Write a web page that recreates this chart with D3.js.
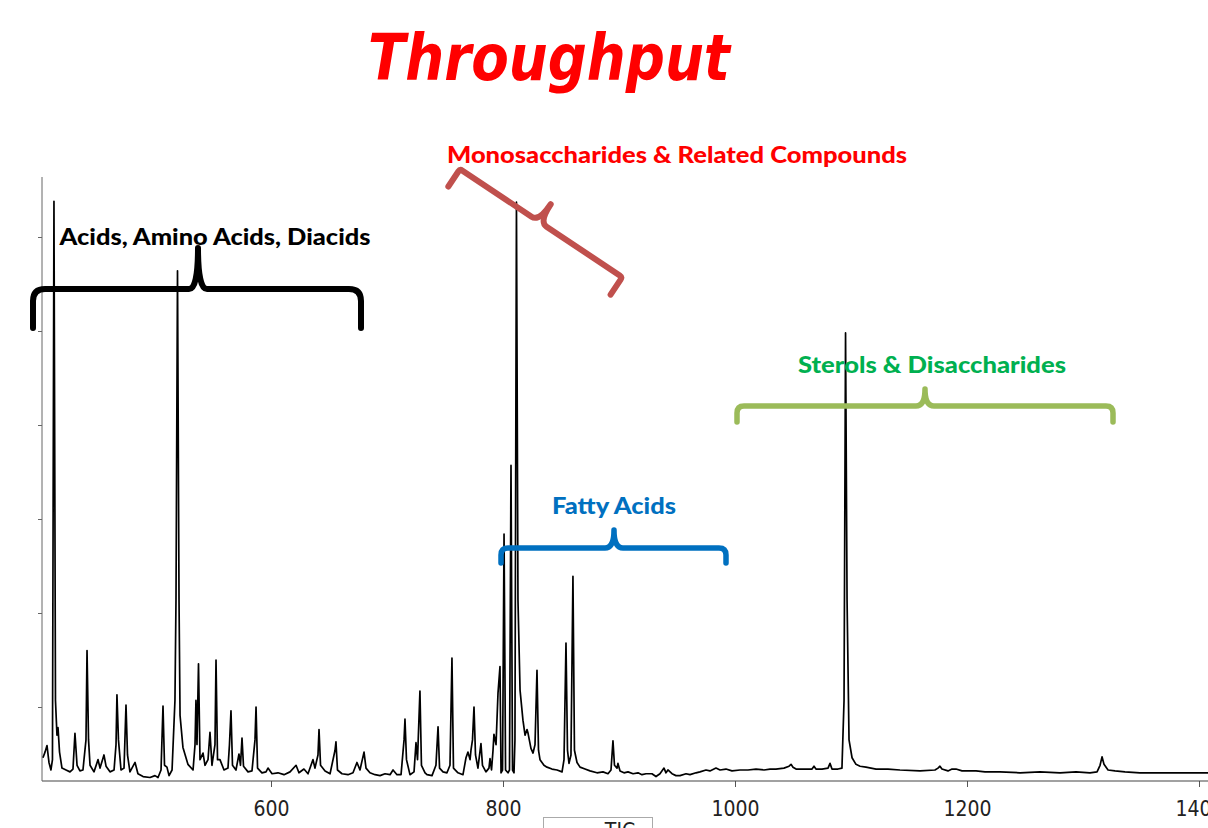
<!DOCTYPE html>
<html>
<head>
<meta http-equiv="Content-Type" content="text/html; charset=utf-8" />
<title>Throughput</title>
<script type="text/javascript" src="https://cdn.jsdelivr.net/npm/d3@7/dist/d3.min.js"></script>
<style>
body{margin:0;background:#fff;}
svg{display:block;}
</style>
</head>
<body>
<svg id="chart" width="1208" height="828"></svg>
<script type="text/javascript">
// TIC trace (scan number / abundance in tick units)
var scan = [403.4,405.2,406.9,408.6,410.3,411.6,412.9,414.2,415.5,416.4,417.7,419.8,423.3,426.7,429.3,431.0,432.8,435.3,437.9,440.5,
	441.4,442.7,444.0,447.4,450.9,452.6,456.0,457.8,461.2,464.7,466.4,467.2,468.5,470.7,473.3,475.0,476.3,478.4,482.8,485.3,
	489.7,495.7,500.0,502.6,505.2,506.9,508.2,510.3,512.1,514.7,517.2,518.1,519.4,520.7,521.6,524.1,528.4,532.8,534.5,535.3,
	536.2,537.5,538.8,541.4,543.1,545.7,547.4,549.1,551.7,552.6,553.9,556.0,559.5,562.9,564.2,565.5,566.8,569.8,572.4,573.7,
	575.0,576.3,580.2,583.6,586.2,587.1,588.4,592.2,595.7,597.4,600.9,606.0,611.2,616.4,621.6,624.1,628.4,631.9,636.2,637.9,
	640.5,641.4,642.7,646.6,650.9,655.2,656.0,657.3,661.2,666.4,670.7,674.1,676.7,680.2,681.9,685.3,689.7,694.0,698.3,702.6,
	705.2,708.6,712.1,714.7,715.5,716.8,719.8,723.3,725.0,726.3,728.4,729.7,732.8,734.5,738.8,742.2,744.0,745.3,748.3,751.7,
	754.3,756.0,757.3,761.2,765.5,768.1,769.8,771.6,772.4,773.7,775.0,776.3,778.4,781.0,782.3,785.3,787.9,788.8,790.1,791.4,
	792.2,794.0,795.7,797.4,798.3,799.6,800.9,802.2,804.3,805.6,806.9,808.2,809.5,810.3,811.6,812.9,814.7,817.2,819.0,820.7,
	821.6,824.1,825.9,827.6,829.3,830.6,831.9,835.3,837.9,842.2,846.6,850.9,852.6,854.3,855.6,856.9,858.6,860.3,861.6,863.8,
	866.4,870.7,875.0,881.0,886.2,890.5,893.1,894.8,896.1,898.3,899.1,900.9,904.3,907.8,912.1,916.4,919.8,923.3,928.4,931.9,
	935.3,938.8,940.5,942.2,945.7,949.1,952.6,957.8,961.2,966.4,969.8,975.0,978.4,983.6,987.1,992.2,997.4,1004.3,1011.2,1018.1,
	1025.0,1030.2,1035.3,1042.2,1046.6,1048.3,1050.0,1052.6,1060.3,1066.4,1068.1,1069.8,1075.0,1080.2,1081.9,1083.6,1088.8,1092.2,1094.0,1095.3,
	1096.6,1098.3,1100.9,1104.3,1107.8,1112.9,1121.6,1131.9,1142.2,1159.5,1172.4,1175.0,1176.7,1178.4,1183.6,1187.1,1190.5,1195.7,1202.6,1207.8,
	1215.5,1228.4,1245.7,1262.9,1280.2,1294.0,1306.0,1312.1,1314.7,1316.4,1318.1,1321.6,1327.6,1336.2,1349.1,1366.4,1383.6,1400.9,1407.8];
var abundance = [0.46,0.52,0.59,0.41,0.33,0.44,6.38,1.07,0.70,0.78,0.52,0.35,0.33,0.31,0.34,0.72,0.38,0.32,0.33,0.65,
	1.60,0.65,0.38,0.31,0.44,0.35,0.49,0.37,0.31,0.33,0.60,1.13,0.65,0.33,0.35,1.02,0.49,0.31,0.41,0.29,
	0.26,0.25,0.27,0.25,0.33,1.01,0.38,0.36,0.27,0.33,1.07,2.14,5.64,2.14,0.91,0.57,0.39,0.33,0.60,1.07,
	0.60,1.46,0.44,0.51,0.38,0.44,0.73,0.38,0.60,1.50,0.44,0.44,0.33,0.35,0.60,0.96,0.38,0.33,0.50,0.38,
	0.67,0.37,0.31,0.32,0.65,1.00,0.35,0.30,0.31,0.35,0.29,0.30,0.28,0.31,0.38,0.30,0.34,0.29,0.44,0.35,
	0.49,0.76,0.38,0.32,0.29,0.54,0.63,0.33,0.29,0.28,0.30,0.41,0.33,0.52,0.35,0.30,0.28,0.27,0.29,0.28,
	0.33,0.28,0.28,0.65,0.87,0.44,0.28,0.31,0.62,0.44,1.17,0.38,0.30,0.28,0.27,0.38,0.79,0.35,0.31,0.30,
	0.38,1.52,0.35,0.30,0.28,0.46,0.52,0.44,0.54,0.65,1.00,0.49,0.35,0.61,0.38,0.31,0.35,0.45,0.33,0.54,
	0.71,0.60,1.15,1.43,0.30,0.33,2.84,0.33,0.30,0.33,3.57,0.33,0.30,0.65,6.37,2.14,1.18,0.86,0.70,0.76,
	0.72,0.56,0.51,0.60,1.39,0.54,0.44,0.38,0.36,0.34,0.33,0.31,0.44,1.68,0.54,0.40,0.49,2.39,0.54,0.41,
	0.36,0.34,0.32,0.30,0.31,0.29,0.33,0.64,0.38,0.35,0.40,0.32,0.30,0.31,0.29,0.30,0.28,0.29,0.29,0.26,
	0.29,0.35,0.30,0.33,0.29,0.27,0.27,0.29,0.28,0.30,0.31,0.33,0.32,0.35,0.33,0.34,0.32,0.33,0.33,0.34,
	0.33,0.34,0.34,0.35,0.37,0.39,0.36,0.34,0.34,0.34,0.37,0.34,0.34,0.35,0.40,0.34,0.34,0.35,1.07,4.98,
	2.14,0.65,0.46,0.39,0.37,0.36,0.34,0.34,0.33,0.32,0.33,0.35,0.37,0.34,0.32,0.34,0.34,0.32,0.32,0.32,
	0.31,0.31,0.30,0.31,0.30,0.31,0.30,0.31,0.38,0.47,0.39,0.33,0.32,0.31,0.30,0.30,0.30,0.30,0.30];
var xTicks = [600, 800, 1000, 1200, 1400];
var yTicks = [1, 2, 3, 4, 5, 6];
var titleText = "Throughput";
var groupNames = ["Acids, Amino Acids, Diacids", "Monosaccharides & Related Compounds", "Fatty Acids", "Sterols & Disaccharides"];
var legendName = "TIC";

var svg = d3.select("#chart");
var plot = {left: 42, right: 1208, top: 177, bottom: 781};

var x = d3.scaleLinear().domain([400, 1400]).range([39, 1199]);
var y = d3.scaleLinear().domain([0, 6]).range([801, 237]);

svg.append("defs").append("clipPath").attr("id", "plotClip")
	.append("rect").attr("x", plot.left).attr("y", plot.top - 5)
	.attr("width", plot.right - plot.left).attr("height", plot.bottom - plot.top + 5);

//坐标轴
var gx = svg.append("g").attr("transform", "translate(0," + plot.bottom + ")")
	.call(d3.axisBottom(x).tickValues(xTicks).tickSize(6).tickPadding(14).tickFormat(d3.format("d")));
gx.select(".domain").remove();
gx.selectAll(".tick line").attr("stroke", "#555");
gx.selectAll(".tick text").attr("fill", "#222")
	.style("font-family", "'Liberation Sans Narrow','DejaVu Sans Condensed','Liberation Sans',sans-serif")
	.style("font-size", "21px");
svg.append("line").attr("x1", plot.left).attr("x2", plot.right).attr("y1", plot.bottom).attr("y2", plot.bottom)
	.attr("stroke", "#444").attr("stroke-width", 1.2);

var gy = svg.append("g").attr("transform", "translate(" + plot.left + ",0)")
	.call(d3.axisLeft(y).tickValues(yTicks).tickSize(4).tickFormat(""));
gy.select(".domain").remove();
gy.selectAll(".tick line").attr("stroke", "#666");
svg.append("line").attr("x1", plot.left).attr("x2", plot.left).attr("y1", plot.top).attr("y2", plot.bottom)
	.attr("stroke", "#666").attr("stroke-width", 1);

//谱线
var pts = scan.map(function(s, i){ return [s, abundance[i]]; });
var line = d3.line().x(function(d){ return x(d[0]); }).y(function(d){ return y(d[1]); });
svg.append("path").datum(pts).attr("d", line).attr("clip-path", "url(#plotClip)")
	.attr("fill", "none").attr("stroke", "#000").attr("stroke-width", 1.7).attr("stroke-linejoin", "round");

//括号
function brace(x0, x1, xm, yh, yEnd, yTop, r){
	var p = d3.path();
	p.moveTo(x0, yEnd);
	p.lineTo(x0, yh + r);
	p.quadraticCurveTo(x0, yh, x0 + r, yh);
	p.lineTo(xm - 9, yh);
	p.quadraticCurveTo(xm, yh, xm, yTop);
	p.quadraticCurveTo(xm, yh, xm + 9, yh);
	p.lineTo(x1 - r, yh);
	p.quadraticCurveTo(x1, yh, x1, yh + r);
	p.lineTo(x1, yEnd);
	return p.toString();
}
function drawBrace(d, color, w, transform){
	svg.append("path").attr("d", d).attr("transform", transform || null)
		.attr("fill", "none").attr("stroke", color).attr("stroke-width", w)
		.attr("stroke-linecap", "round").attr("stroke-linejoin", "round");
}
drawBrace(brace(33, 361, 198, 289, 328, 248, 12), "#000", 6);
drawBrace(brace(0, 195, 95, 0, 21, -21, 3), "#c0504d", 6, "translate(460,169) rotate(33.69)");
drawBrace(brace(501, 726, 614, 548, 563, 530, 7), "#0070c0", 5.5);
drawBrace(brace(737, 1113, 925, 406, 422, 389, 7), "#9bbb59", 5.5);

//标签
var labelFont = "Lato,'Open Sans','DejaVu Sans',sans-serif";
var labels = [
	{text: groupNames[0], x: 215, y: 245, w: 311, color: "#000"},
	{text: groupNames[1], x: 677, y: 163, w: 460, color: "#ff0000"},
	{text: groupNames[2], x: 614, y: 514, w: 124, color: "#0070c0"},
	{text: groupNames[3], x: 932, y: 373, w: 268, color: "#00b050"}
];
svg.selectAll("text.group").data(labels).enter().append("text").attr("class", "group")
	.attr("x", function(d){ return d.x; }).attr("y", function(d){ return d.y; })
	.attr("text-anchor", "middle").attr("fill", function(d){ return d.color; })
	.attr("textLength", function(d){ return d.w; }).attr("lengthAdjust", "spacingAndGlyphs")
	.style("font-family", labelFont).style("font-weight", "900").style("font-size", "22px")
	.text(function(d){ return d.text; });

svg.append("text").attr("x", 549).attr("y", 80).attr("text-anchor", "middle")
	.attr("textLength", 362).attr("lengthAdjust", "spacingAndGlyphs")
	.attr("fill", "#ff0000")
	.style("font-family", "'DejaVu Sans',sans-serif").style("font-weight", "bold")
	.style("font-style", "italic").style("font-size", "64px")
	.text(titleText);

//图例
svg.append("rect").attr("x", 543.5).attr("y", 817.5).attr("width", 109).attr("height", 30)
	.attr("fill", "#fff").attr("stroke", "#aaa");
svg.append("text").attr("x", 620).attr("y", 838).attr("text-anchor", "middle").attr("fill", "#222")
	.style("font-family", "'Liberation Sans Narrow','DejaVu Sans Condensed','Liberation Sans',sans-serif")
	.style("font-size", "21px").text(legendName);
</script>
</body>
</html>
